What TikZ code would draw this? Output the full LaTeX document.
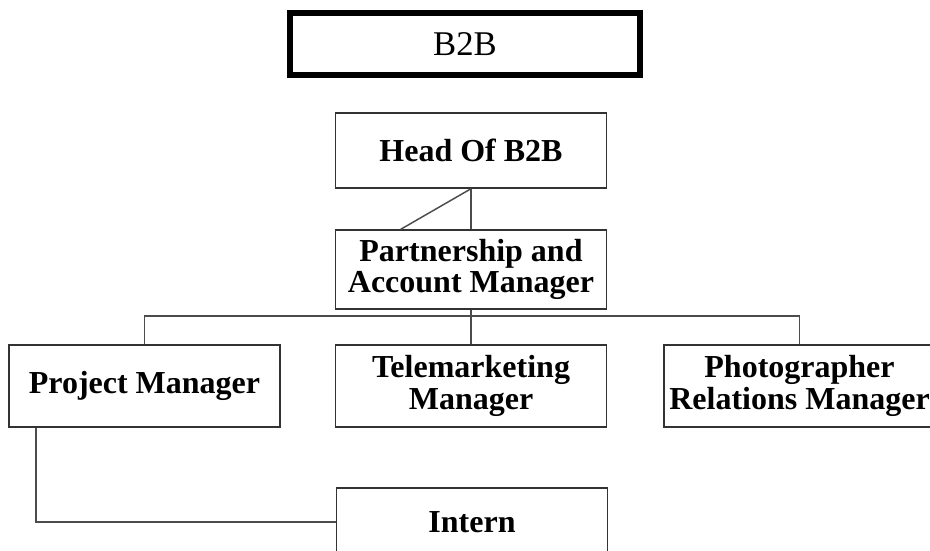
\documentclass[tikz,border=0pt]{standalone}
\usepackage{fontspec}
\setmainfont{Liberation Serif}
\tikzset{
Titre/.style={
 draw=black,
 line width=4.5pt,
 inner sep=0pt,
 minimum width=262.5pt,
 minimum height=46.5pt,
 font=\fontsize{26}{26}\selectfont
 },
Poste/.style={
 draw=black!80,
 line width=1.1pt,
 inner sep=0pt,
 align=center,
 minimum width=203.25pt,
 minimum height=#1,
 font=\bfseries\fontsize{24}{23.5}\selectfont
 },
Poste/.default={61.5pt},
Lien/.style={
 draw=black!70,
 line width=1.1pt
 }
}
\begin{document}
\begin{tikzpicture}[x=0.75pt,y=-0.75pt]
\clip (0,0) rectangle (930,550);
\node[Titre] (b2b) at (465,44) {B2B};
\node[Poste=56.25pt] (head) at (471,150.5) {Head Of B2B};
\node[Poste=59.25pt] (partner) at (471,269.5) {Partnership and\\Account Manager};
\node[Poste] (pm) at (144.5,386) {Project Manager};
\node[Poste] (tele) at (471,386) {Telemarketing\\Manager};
\node[Poste] (photo) at (799.5,386) {Photographer\\Relations Manager};
\node[Poste=51pt] (intern) at (472,522) {Intern};
\coordinate (bus) at (471,316);
\coordinate (coin) at (36,522);
% liens
\draw[Lien] (head.south) -- (partner.north);
\draw[Lien] (head.south) -- ([xshift=49.5pt]partner.north west);
\draw[Lien] (partner.south) -- (tele.north);
\draw[Lien] (pm.north) |- (bus) -| (photo.north);
\draw[Lien] (coin |- pm.south) -- (coin) -- (intern.west);
\end{tikzpicture}
\end{document}
